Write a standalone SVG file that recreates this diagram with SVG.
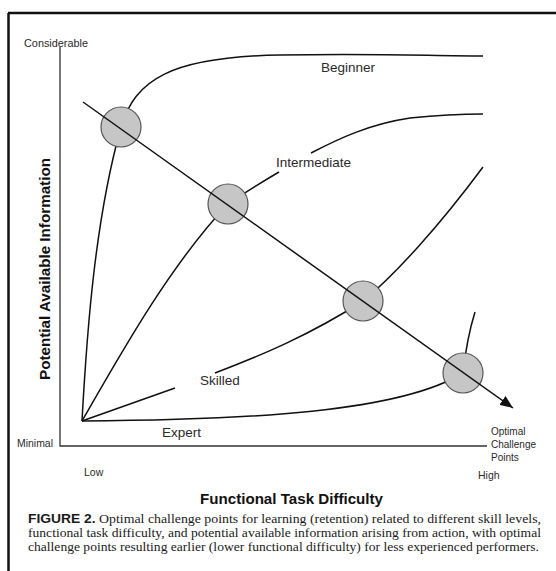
<svg xmlns="http://www.w3.org/2000/svg" width="556" height="571" viewBox="0 0 556 571">
<style>
.lbl{font-family:"Liberation Sans",Arial,sans-serif;fill:#2a2a2a}
.ax{font-size:10.5px}
.crv{font-size:13.5px}
.bold{font-weight:bold;fill:#111}
.cap{font-family:"Liberation Serif","Times New Roman",serif;font-size:12.5px;fill:#1a1a1a}
.curve{fill:none;stroke:#111;stroke-width:1.5}
.axis{fill:none;stroke:#333;stroke-width:1.3}
.pt{fill:#c6c6c6;stroke:#555;stroke-width:1.2}
</style>
<defs>
<marker id="arr" viewBox="0 0 12 10" refX="12" refY="5" markerWidth="13" markerHeight="11" markerUnits="userSpaceOnUse" orient="auto">
<path d="M0,0 L12,5 L0,10 Z" fill="#111"/>
</marker>
</defs>
<rect width="556" height="571" fill="#fff"/>
<g id="frame">
<path d="M8,13 H556 M8.5,13 V571" fill="none" stroke="#111" stroke-width="2.5"/>
</g>
<g id="axes">
<path class="axis" d="M60,47 V446 H487"/>
<text class="lbl ax" x="24" y="47" textLength="64" lengthAdjust="spacingAndGlyphs">Considerable</text>
<text class="lbl ax" x="17" y="447" textLength="36" lengthAdjust="spacingAndGlyphs">Minimal</text>
<text class="lbl ax" x="84" y="476">Low</text>
<text class="lbl ax" x="478" y="479">High</text>
<text class="lbl bold" font-size="15" text-anchor="middle" transform="translate(50,269) rotate(-90)" textLength="222" lengthAdjust="spacingAndGlyphs">Potential Available Information</text>
<text class="lbl bold" font-size="15" x="200" y="504" textLength="183" lengthAdjust="spacingAndGlyphs">Functional Task Difficulty</text>
</g>
<g id="connectors">
<path id="beginner-curve" class="curve" d="M82,421 C87,330 95,220 121,127 C135,80 170,57 280,55 C380,53 430,56 483,56"/>
<path id="intermediate-curve" class="curve" d="M82,421 C120,355 170,265 228,204 Q255,186 279,172 M311,153 C340,138 370,124 410,118 C440,115 460,114 483,114"/>
<path id="skilled-curve" class="curve" d="M82,421 L175,388 M215,373 C260,356 310,335 363,301 C395,275 440,225 483,167"/>
<path id="expert-curve" class="curve" d="M82,421 C250,420 400,412 463,373 C465,355 470,328 475,312"/>
</g>
<g id="challenge-points">
<circle class="pt" cx="121" cy="127" r="20"/>
<circle class="pt" cx="228" cy="204" r="20"/>
<circle class="pt" cx="363" cy="301" r="20"/>
<circle class="pt" cx="463" cy="373" r="20"/>
</g>
<g id="diagonal">
<path class="curve" d="M83,102 L513,408" marker-end="url(#arr)"/>
</g>
<g id="labels">
<text class="lbl crv" x="321" y="72">Beginner</text>
<text class="lbl crv" x="276" y="167">Intermediate</text>
<text class="lbl crv" x="200" y="385">Skilled</text>
<text class="lbl crv" x="162" y="437">Expert</text>
<text class="lbl" font-size="10" x="491" y="435">Optimal</text>
<text class="lbl" font-size="10" x="491" y="448">Challenge</text>
<text class="lbl" font-size="10" x="491" y="461">Points</text>
</g>
<g id="caption">
<text class="cap" x="28" y="523" textLength="513" lengthAdjust="spacingAndGlyphs"><tspan font-family="'Liberation Sans',Arial,sans-serif" font-weight="bold" font-size="12.5">FIGURE 2.</tspan> Optimal challenge points for learning (retention) related to different skill levels,</text>
<text class="cap" x="28" y="537" textLength="513" lengthAdjust="spacingAndGlyphs">functional task difficulty, and potential available information arising from action, with optimal</text>
<text class="cap" x="28" y="551" textLength="511" lengthAdjust="spacingAndGlyphs">challenge points resulting earlier (lower functional difficulty) for less experienced performers.</text>
</g>
</svg>
